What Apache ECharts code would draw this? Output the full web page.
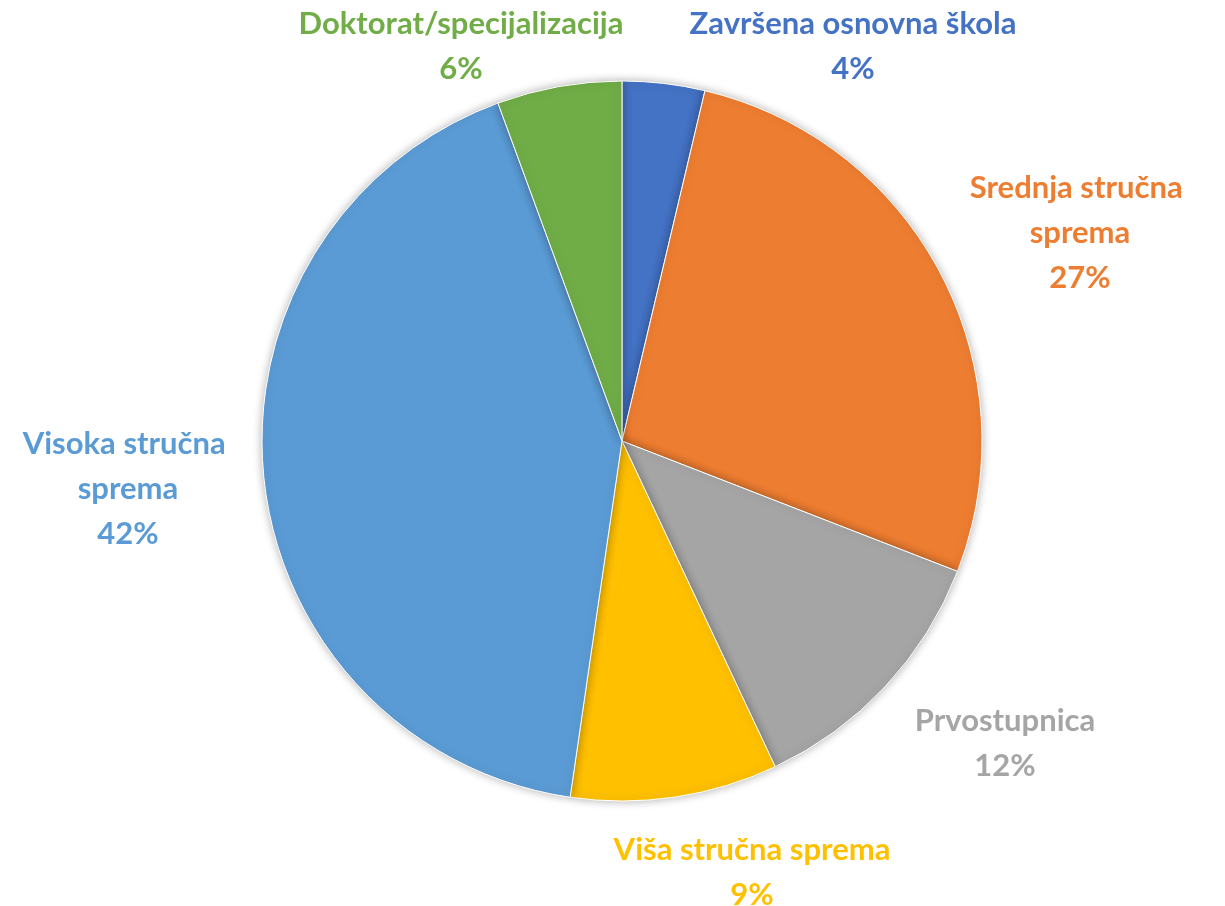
<!DOCTYPE html>
<html>
<head>
<meta charset="utf-8">
<script src="https://cdn.jsdelivr.net/npm/echarts@6/dist/echarts.min.js"></script>
<style>
html,body{margin:0;padding:0;background:#fff;}
#chart{width:1225px;height:906px;}
</style>
</head>
<body>
<div id="chart"></div>
<script>
const categories = ['Završena osnovna škola', 'Srednja stručna sprema', 'Prvostupnica', 'Viša stručna sprema', 'Visoka stručna sprema', 'Doktorat/specijalizacija'];
const values = [3.7, 27.2, 12.1, 9.3, 42.1, 5.6];
const colors = ['#4472C4', '#ED7D31', '#A5A5A5', '#FFC000', '#5B9BD5', '#70AD47'];
// label block centres (Excel best-fit placement)
const labelPos = [[853, 46], [1080, 233], [1005, 743], [752, 872], [128, 489], [461, 46]];
const wrapWidth = [null, 260, null, null, 260, null];

const chart = echarts.init(document.getElementById('chart'));
chart.setOption({
  animation: false,
  series: [{
    type: 'pie',
    center: [622, 441],
    radius: 360,
    startAngle: 90,
    clockwise: true,
    percentPrecision: 0,
    avoidLabelOverlap: false,
    itemStyle: {
      borderColor: '#fff',
      borderWidth: 1,
      shadowBlur: 10,
      shadowColor: 'rgba(0,0,0,0.3)'
    },
    label: {
      show: true,
      position: 'outside',
      formatter: '{b}\n{d}%',
      fontFamily: 'Lato',
      fontWeight: 'bold',
      fontSize: 31,
      lineHeight: 45,
      align: 'center'
    },
    labelLine: { show: false },
    labelLayout: function (p) {
      const pos = labelPos[p.dataIndex];
      return { x: pos[0], y: pos[1], align: 'center', verticalAlign: 'middle' };
    },
    emphasis: { disabled: true },
    data: categories.map((c, i) => {
      const item = {
        name: c,
        value: values[i],
        itemStyle: { color: colors[i] },
        label: { color: colors[i] }
      };
      if (wrapWidth[i]) {
        item.label.width = wrapWidth[i];
        item.label.overflow = 'break';
      }
      return item;
    })
  }]
});
</script>
</body>
</html>
